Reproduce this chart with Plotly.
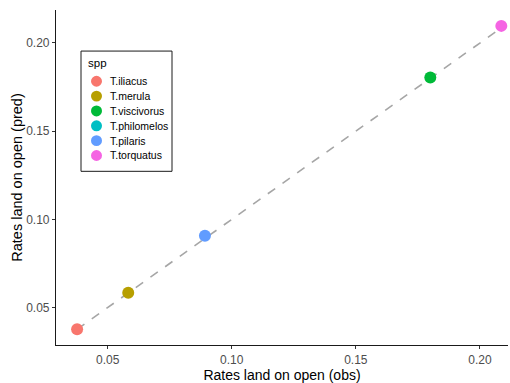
import plotly.graph_objects as go

# Species, observed and predicted rates of landing on open ground
species = ["T.iliacus", "T.merula", "T.viscivorus", "T.philomelos", "T.pilaris", "T.torquatus"]
obs = [0.0377, 0.0583, 0.1800, None, 0.0892, 0.2086]
pred = [0.0377, 0.0584, 0.1804, None, 0.0907, 0.2097]
colors = ["#F8766D", "#B79F00", "#00BA38", "#00BFC4", "#619CFF", "#F564E3"]

x_ticks = [0.05, 0.10, 0.15, 0.20]
y_ticks = [0.05, 0.10, 0.15, 0.20]

font_family = "Liberation Sans, Arial, sans-serif"

# Plot area in pixels (used to place the key box)
W, H = 510, 383
ML, MR, MT, MB = 56, 2, 10, 34.5
PW, PH = W - ML - MR, H - MT - MB


def px_x(px):
    return (px - ML) / PW


def px_y(py):
    return (H - MB - py) / PH


fig = go.Figure()

# 1:1 reference line spanning the observed range
valid = [v for v in obs if v is not None]
lo, hi = min(valid), max(valid)
fig.add_trace(go.Scatter(
    x=[lo, hi], y=[lo, hi], mode="lines",
    line=dict(color="#a6a6a6", width=1.6, dash="dash"),
    showlegend=False, hoverinfo="skip",
))

for name, xo, yp, c in zip(species, obs, pred, colors):
    fig.add_trace(go.Scatter(
        x=[xo], y=[yp], mode="markers", name=name,
        marker=dict(color=c, size=12, line=dict(width=0)),
        showlegend=False,
    ))

# Key box for species colours
shapes = [dict(
    type="rect", xref="paper", yref="paper",
    x0=px_x(81), x1=px_x(172), y0=px_y(173), y1=px_y(51.5),
    line=dict(color="#1a1a1a", width=1), fillcolor="white", layer="above",
)]
annotations = [dict(
    text="spp", xref="paper", yref="paper", x=px_x(86), y=px_y(64),
    xanchor="left", yanchor="middle", showarrow=False,
    font=dict(family=font_family, size=11.5, color="#000000"),
)]
key_top, key_step, r = 82, 15.0, 5.5
for i, (name, c) in enumerate(zip(species, colors)):
    cy = key_top + i * key_step
    shapes.append(dict(
        type="circle", xref="paper", yref="paper",
        x0=px_x(96.5 - r), x1=px_x(96.5 + r), y0=px_y(cy + r), y1=px_y(cy - r),
        fillcolor=c, line=dict(width=0), layer="above",
    ))
    annotations.append(dict(
        text=name, xref="paper", yref="paper", x=px_x(108), y=px_y(cy),
        xanchor="left", yanchor="middle", showarrow=False,
        font=dict(family=font_family, size=10.5, color="#000000"),
    ))

axis_common = dict(
    showgrid=False, zeroline=False, showline=True, linecolor="#1a1a1a",
    linewidth=1.2, ticks="outside", ticklen=3, tickwidth=1, tickcolor="#333333",
    tickfont=dict(family=font_family, size=12, color="#4d4d4d"),
    tickformat=".2f", mirror=False,
)

fig.update_layout(
    width=W, height=H,
    margin=dict(l=ML, r=MR, t=MT, b=MB),
    paper_bgcolor="white", plot_bgcolor="white",
    font=dict(family=font_family, color="#000000"),
    showlegend=False,
    xaxis=dict(
        range=[0.0292, 0.2113], tickvals=x_ticks,
        title=dict(text="Rates land on open (obs)", font=dict(size=14), standoff=5),
        **axis_common,
    ),
    yaxis=dict(
        range=[0.0288, 0.2187], tickvals=y_ticks,
        title=dict(text="Rates land on open (pred)", font=dict(size=14.5), standoff=0),
        **axis_common,
    ),
    shapes=shapes,
    annotations=annotations,
)

fig.write_html("out.html")
